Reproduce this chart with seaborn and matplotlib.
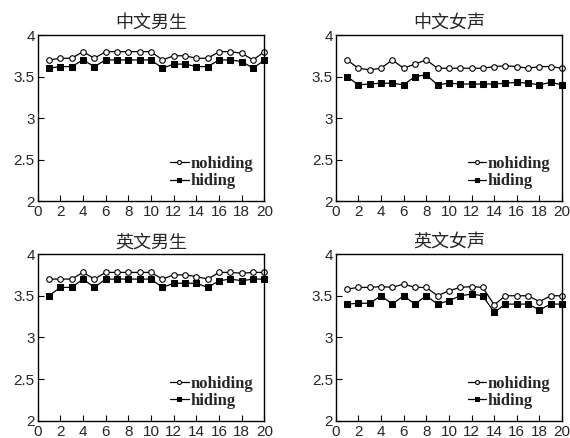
import numpy as np
import pandas as pd
import matplotlib
matplotlib.use("Agg")
import matplotlib.pyplot as plt
import seaborn as sns

sns.set_theme(style="ticks")
plt.rcParams['font.family'] = ['Liberation Sans', 'Noto Sans CJK SC', 'DejaVu Sans']

# =========================
# DATA
# =========================
x = list(range(1, 21))

titles = ["中文男生", "中文女声", "英文男生", "英文女声"]

cn_male_nohiding = [3.7, 3.72, 3.72, 3.8, 3.72, 3.8, 3.8, 3.8, 3.8, 3.8,
                    3.7, 3.75, 3.75, 3.72, 3.72, 3.8, 3.8, 3.78, 3.7, 3.8]
cn_male_hiding = [3.6, 3.62, 3.62, 3.7, 3.62, 3.7, 3.7, 3.7, 3.7, 3.7,
                  3.6, 3.65, 3.65, 3.62, 3.62, 3.7, 3.7, 3.68, 3.6, 3.7]

cn_female_nohiding = [3.7, 3.6, 3.58, 3.6, 3.7, 3.6, 3.65, 3.7, 3.6, 3.6,
                      3.6, 3.6, 3.6, 3.62, 3.63, 3.62, 3.6, 3.62, 3.62, 3.6]
cn_female_hiding = [3.5, 3.4, 3.41, 3.42, 3.42, 3.4, 3.5, 3.52, 3.4, 3.42,
                    3.41, 3.41, 3.41, 3.41, 3.42, 3.43, 3.42, 3.4, 3.43, 3.4]

en_male_nohiding = [3.7, 3.7, 3.7, 3.78, 3.7, 3.78, 3.78, 3.78, 3.78, 3.78,
                    3.7, 3.75, 3.75, 3.73, 3.7, 3.78, 3.78, 3.77, 3.78, 3.78]
en_male_hiding = [3.5, 3.6, 3.6, 3.7, 3.6, 3.7, 3.7, 3.7, 3.7, 3.7,
                  3.6, 3.65, 3.65, 3.65, 3.6, 3.68, 3.7, 3.68, 3.7, 3.7]

en_female_nohiding = [3.58, 3.6, 3.6, 3.61, 3.6, 3.64, 3.6, 3.6, 3.5, 3.56,
                      3.6, 3.61, 3.6, 3.39, 3.5, 3.5, 3.5, 3.43, 3.5, 3.5]
en_female_hiding = [3.4, 3.41, 3.41, 3.5, 3.4, 3.5, 3.4, 3.5, 3.4, 3.44,
                    3.5, 3.52, 3.5, 3.3, 3.4, 3.4, 3.4, 3.33, 3.4, 3.4]

panels = [
    (cn_male_nohiding, cn_male_hiding),
    (cn_female_nohiding, cn_female_hiding),
    (en_male_nohiding, en_male_hiding),
    (en_female_nohiding, en_female_hiding),
]

x_ticks = list(range(0, 21, 2))
y_ticks = [2, 2.5, 3, 3.5, 4]
y_ticklabels = ["2", "2.5", "3", "3.5", "4"]

# =========================
# PLOT
# =========================
fig = plt.figure(figsize=(5.7, 4.38), dpi=100)
positions = [
    [0.066, 0.541, 0.398, 0.379],
    [0.589, 0.541, 0.397, 0.379],
    [0.066, 0.039, 0.398, 0.381],
    [0.589, 0.039, 0.397, 0.381],
]

for pos, title, (noh, hid) in zip(positions, titles, panels):
    ax = fig.add_axes(pos)
    sns.lineplot(x=x, y=noh, ax=ax, color="black", linewidth=0.9,
                 marker="o", markersize=4, markerfacecolor="white",
                 markeredgecolor="black", markeredgewidth=0.8,
                 label="nohiding", clip_on=False)
    sns.lineplot(x=x, y=hid, ax=ax, color="black", linewidth=0.9,
                 marker="s", markersize=5, markerfacecolor="black",
                 markeredgecolor="black", label="hiding", clip_on=False)
    ax.set_xlim(0, 20)
    ax.set_ylim(2, 4)
    ax.set_xticks(x_ticks)
    ax.set_yticks(y_ticks)
    ax.set_yticklabels(y_ticklabels)
    ax.tick_params(direction="in", length=4, width=0.8, labelsize=11,
                   color="black")
    ax.tick_params(axis="x", pad=3)
    ax.tick_params(axis="y", pad=2)
    for s in ax.spines.values():
        s.set_visible(True)
        s.set_color("black")
        s.set_linewidth(1.0)
    ax.set_title(title, fontsize=13, family=["Noto Sans CJK SC"], pad=5)
    ax.legend(loc="lower right", frameon=False, handlelength=1.1,
              handletextpad=0.1, labelspacing=0.1, borderaxespad=0.3,
              markerscale=0.7,
              prop={"family": "Liberation Serif", "size": 12, "weight": "bold"})

fig.savefig("out.png", dpi=100)
